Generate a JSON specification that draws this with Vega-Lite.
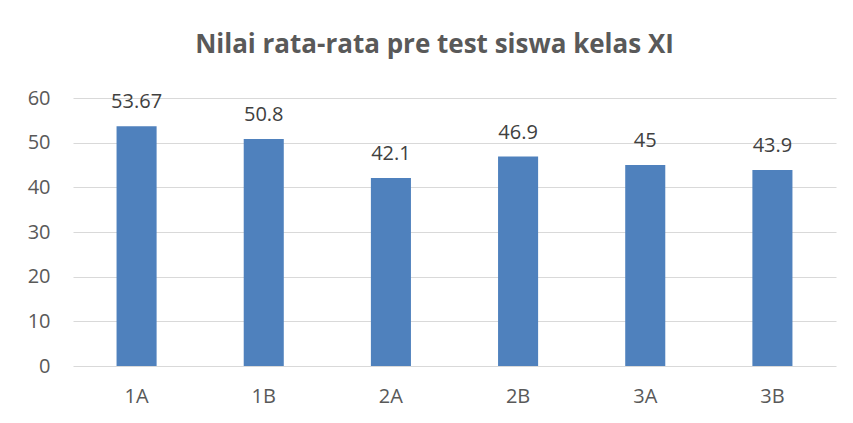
{
  "$schema": "https://vega.github.io/schema/vega-lite/v6.json",
  "width": 763,
  "height": 268,
  "autosize": {"type": "none"},
  "padding": {"left": 73, "top": 98, "right": 17, "bottom": 57},
  "background": "white",
  "title": {
    "text": "Nilai rata-rata pre test siswa kelas XI",
    "font": "Open Sans",
    "fontSize": 26,
    "fontWeight": "bold",
    "color": "#595959",
    "anchor": "middle",
    "dx": -20,
    "offset": 30
  },
  "data": {
    "values": [
      {"kelas": "1A", "nilai": 53.67},
      {"kelas": "1B", "nilai": 50.8},
      {"kelas": "2A", "nilai": 42.1},
      {"kelas": "2B", "nilai": 46.9},
      {"kelas": "3A", "nilai": 45},
      {"kelas": "3B", "nilai": 43.9}
    ]
  },
  "config": {
    "view": {"stroke": null},
    "axis": {
      "labelFont": "Open Sans",
      "labelFontSize": 20,
      "labelColor": "#595959",
      "domain": false,
      "ticks": false,
      "title": null
    }
  },
  "encoding": {
    "x": {
      "field": "kelas",
      "type": "nominal",
      "sort": null,
      "scale": {"paddingInner": 0.685, "paddingOuter": 0.3425},
      "axis": {"labelAngle": 0, "labelPadding": 20, "grid": false}
    },
    "y": {
      "field": "nilai",
      "type": "quantitative",
      "scale": {"domain": [0, 60], "nice": false},
      "axis": {
        "values": [0, 10, 20, 30, 40, 50, 60],
        "gridColor": "#d9d9d9",
        "gridWidth": 1,
        "labelPadding": 23
      }
    }
  },
  "layer": [
    {"mark": {"type": "bar", "color": "#4f81bd"}},
    {
      "mark": {
        "type": "text",
        "font": "Open Sans",
        "fontSize": 20,
        "color": "#404040",
        "baseline": "alphabetic",
        "dy": -18
      },
      "encoding": {"text": {"field": "nilai", "type": "quantitative"}}
    }
  ]
}
